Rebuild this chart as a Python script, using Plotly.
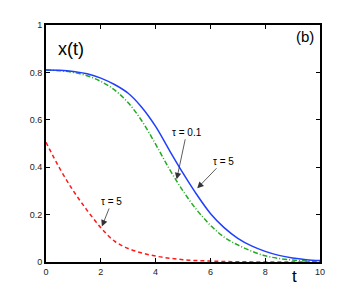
import plotly.graph_objects as go

t = [0, 0.5, 1, 1.5, 2, 2.5, 3, 3.5, 4, 4.5, 5, 5.5, 6, 6.5, 7, 7.5, 8, 8.5, 9, 9.5, 10]
blue_tau5 = [0.810, 0.809, 0.804, 0.794, 0.776, 0.749, 0.712, 0.652, 0.572, 0.472, 0.375,
             0.285, 0.205, 0.145, 0.100, 0.068, 0.045, 0.028, 0.017, 0.010, 0.006]
green_tau01 = [0.810, 0.807, 0.800, 0.786, 0.762, 0.726, 0.672, 0.595, 0.497, 0.393, 0.300,
               0.220, 0.155, 0.105, 0.072, 0.046, 0.026, 0.015, 0.008, 0.004, 0.002]
red_tau5 = [0.505, 0.395, 0.300, 0.218, 0.145, 0.088, 0.057, 0.038, 0.025, 0.016, 0.010,
            0.006, 0.004, 0.002, 0.001, 0.0005, 0.0003, 0.0002, 0.0001, 0.0, 0.0]

x_ticks = [0, 2, 4, 6, 8, 10]
y_ticks = [0, 0.2, 0.4, 0.6, 0.8, 1]
y_tick_labels = ["0", "0.2", "0.4", "0.6", "0.8", "1"]

fig = go.Figure()
fig.add_trace(go.Scatter(x=t, y=red_tau5, mode="lines", line_shape="spline",
                         line=dict(color="#ff1a1a", width=1.5, dash="4px,3px")))
fig.add_trace(go.Scatter(x=t, y=green_tau01, mode="lines", line_shape="spline",
                         line=dict(color="#22aa22", width=1.5, dash="5px,2px,1px,2px")))
fig.add_trace(go.Scatter(x=t, y=blue_tau5, mode="lines", line_shape="spline",
                         line=dict(color="#1f3fff", width=1.5)))

font = "Liberation Sans, Arial, sans-serif"
axis_common = dict(showgrid=False, zeroline=False, showline=True, linecolor="black",
                   linewidth=2, mirror="allticks", ticks="inside", ticklen=4,
                   tickcolor="black", tickwidth=1,
                   tickfont=dict(family=font, size=9, color="#222"))

fig.update_layout(
    width=354, height=295,
    margin=dict(l=38, r=42, t=14, b=41),
    paper_bgcolor="white", plot_bgcolor="white",
    showlegend=False,
    xaxis=dict(range=[0, 10], tickvals=x_ticks, **axis_common),
    yaxis=dict(range=[0, 1], tickvals=y_ticks, ticktext=y_tick_labels, **axis_common),
)

arrow = dict(showarrow=True, arrowhead=2, arrowsize=1.6, arrowwidth=0.8,
             arrowcolor="#333", font=dict(family=font, size=10, color="black"))
fig.add_annotation(x=4.77, y=0.349, ax=10, ay=-47, text="τ = 0.1", **arrow)
fig.add_annotation(x=5.52, y=0.311, ax=26, ay=-27, text="τ = 5", **arrow)
fig.add_annotation(x=2.04, y=0.15, ax=10, ay=-25, text="τ = 5", **arrow)

fig.add_annotation(xref="paper", yref="paper", x=0.09, y=0.897, text="x(t)",
                   showarrow=False, xanchor="center", yanchor="middle",
                   font=dict(family=font, size=18, color="black"))
fig.add_annotation(xref="paper", yref="paper", x=0.944, y=0.953, text="(b)",
                   showarrow=False, xanchor="center", yanchor="middle",
                   font=dict(family=font, size=15, color="black"))
fig.add_annotation(xref="paper", yref="paper", x=0.906, y=-0.061, text="t",
                   showarrow=False, xanchor="center", yanchor="middle",
                   font=dict(family=font, size=17, color="black"))

fig.write_html("out.html")
